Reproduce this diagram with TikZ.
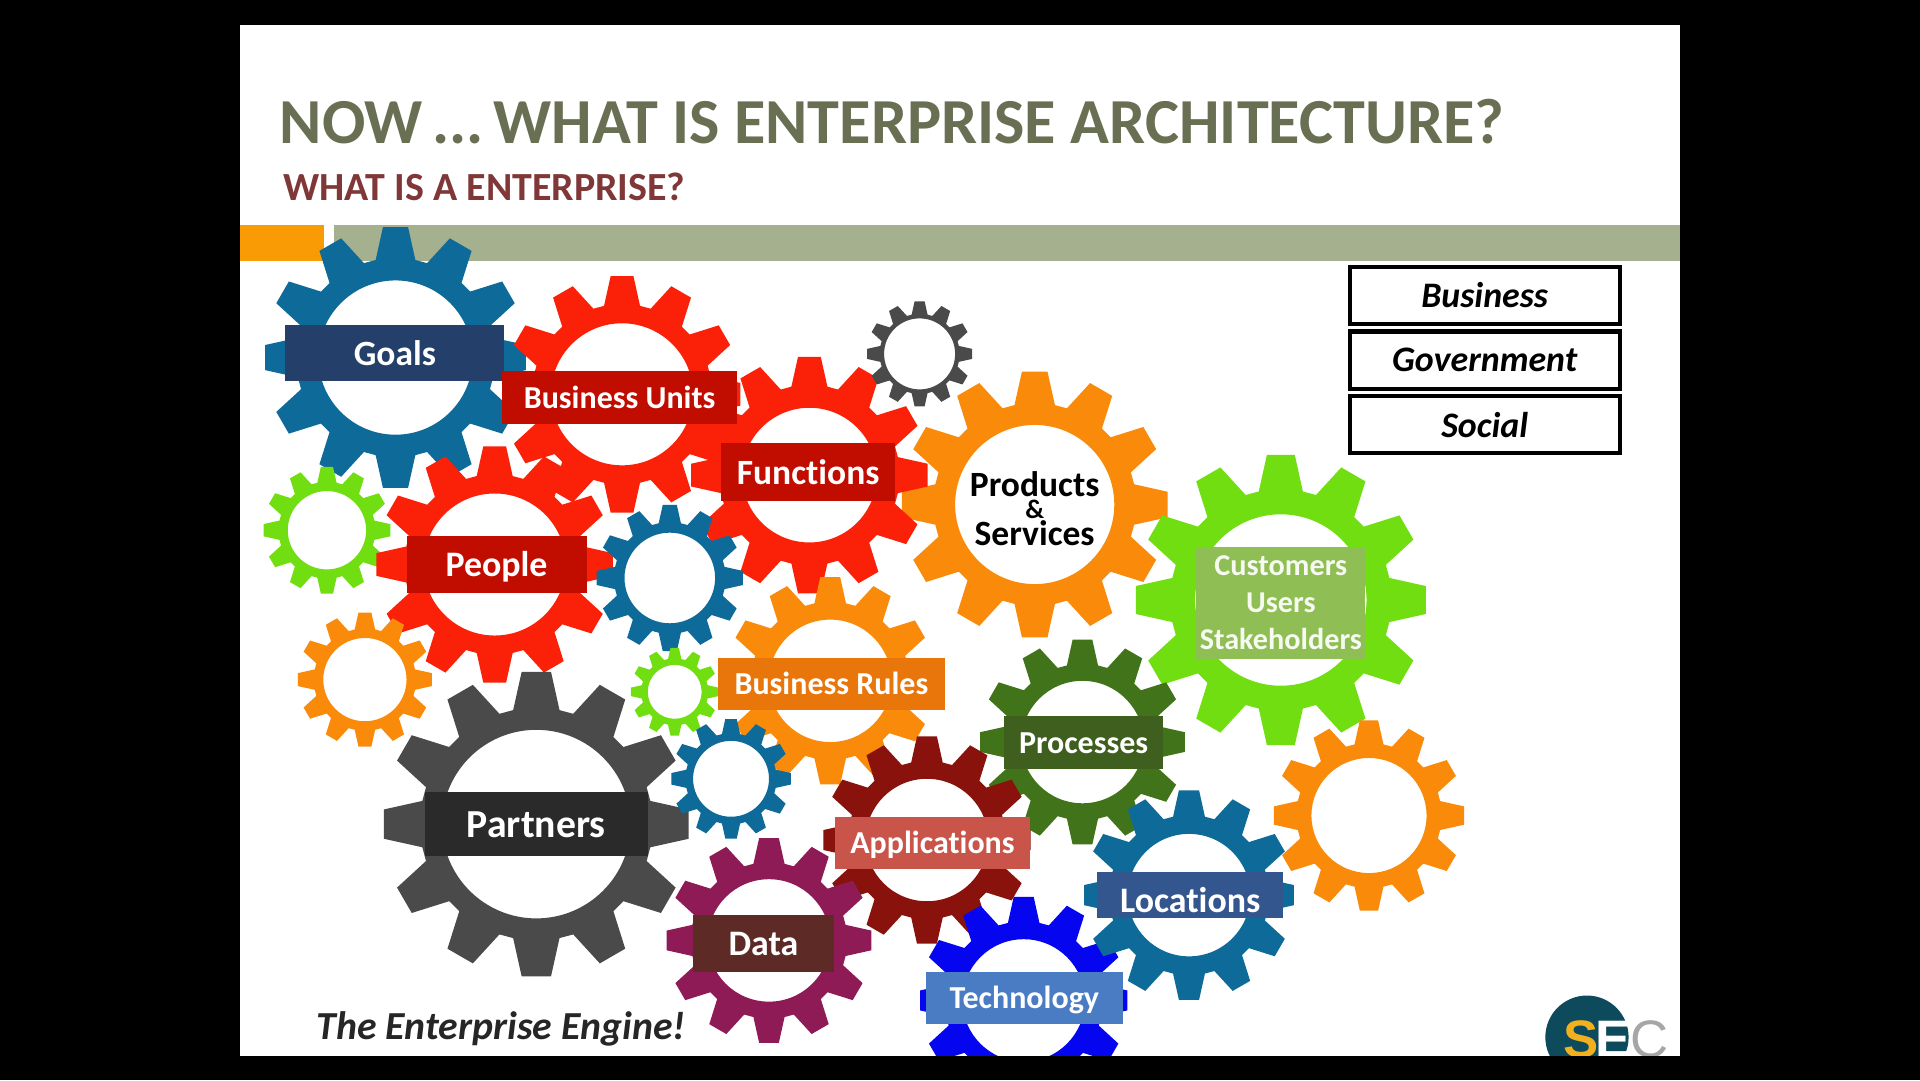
\documentclass[tikz,border=0pt]{standalone}
\usepackage{fontspec}
\setmainfont[Ligatures=CommonOff]{Carlito}
\newfontfamily\logofont{Liberation Sans}
\usetikzlibrary{positioning}
\definecolor{titleolive}{HTML}{696F52}
\definecolor{subred}{HTML}{7F3737}
\definecolor{barorange}{HTML}{F89B05}
\definecolor{barolive}{HTML}{A5B08F}
\definecolor{gearblue}{HTML}{0E6A98}
\definecolor{gearred}{HTML}{FB2108}
\definecolor{geargray}{HTML}{4A4A4A}
\definecolor{gearorange}{HTML}{F98A0A}
\definecolor{geargreen}{HTML}{70DE10}
\definecolor{gearmoss}{HTML}{41741A}
\definecolor{gearwine}{HTML}{8A120C}
\definecolor{gearplum}{HTML}{8F1B56}
\definecolor{gearcobalt}{HTML}{0505F0}
\definecolor{logoteal}{HTML}{0D4A5C}
\definecolor{logogold}{HTML}{F2B01E}
\definecolor{tagnavy}{HTML}{243F69}
\definecolor{tagred}{HTML}{C00D00}
\definecolor{tagorange}{HTML}{E8760A}
\definecolor{tagmoss}{HTML}{3F5F1F}
\definecolor{tagblack}{HTML}{2A2A2A}
\definecolor{tagsalmon}{HTML}{C9544A}
\definecolor{tagindigo}{HTML}{34568F}
\definecolor{tagbrown}{HTML}{5D2A25}
\definecolor{tagsky}{HTML}{4A7CC4}
\definecolor{tagleaf}{HTML}{8FBE55}

\begin{document}
\begin{tikzpicture}[x=0.0122449cm,y=-0.0122449cm]
\tikzset{
	banner node/.style={rectangle,inner sep=0,text=white,align=center},
	choice node/.style={rectangle,draw=black,line width=0.4mm,fill=white,minimum width=2.7cm,minimum height=0.57cm,inner sep=0,font=\bfseries\itshape\fontsize{10.2}{12}\selectfont}
}
\useasboundingbox (0,0) rectangle (1568,882);
\fill[black] (0,0) rectangle (1568,882);
\fill[white] (196,20) rectangle (1372,862);
\fill[barorange] (196,184) rectangle (265,213);
\fill[barolive] (273,184) rectangle (1372,213);

\node[anchor=base west,inner sep=0,text=titleolive,font=\bfseries\fontsize{18.25}{20}\selectfont] (title) at (228,117.5) {NOW\hspace{0.15em}...\hspace{0.15em}WHAT IS ENTERPRISE ARCHITECTURE?};
\node[anchor=base west,inner sep=0,text=subred,font=\bfseries\fontsize{11.35}{13}\selectfont] (subtitle) at (231,164) {WHAT IS A ENTERPRISE?};

% gears: x/y/outer/hole/colour
\begin{scope}
\clip (196,20) rectangle (1372,862);
\foreach \cx/\cy/\ro/\ri/\col in {
	323/292/107/63/gearblue,
	508/322/97/58/gearred,
	845/412/109/65/gearorange,
	661/388/97/55/gearred,
	751/289/43/29/geargray,
	1046/490/119/70/geargreen,
	267/433/52/32/geargreen,
	404/461/97/58/gearred,
	547/472/60/37/gearblue,
	298/555/55/34/gearorange,
	678/556/85/50/gearorange,
	551/565/36/22/geargreen,
	438/673/125/77/geargray,
	597/636/49/31/gearblue,
	884/606/84/50/gearmoss,
	1118/666/78/47/gearorange,
	757/686/85/50/gearwine,
	836/817/85/50/gearcobalt,
	971/731/86/50/gearblue,
	628/768/84/50/gearplum}
{
	\pgfmathsetmacro{\rb}{\ro*0.76}
	\begin{scope}[shift={(\cx,\cy)}]
	\fill[\col,even odd rule] (-11.5:\rb)
		\foreach \a in {0,30,...,330} {
			-- (\a-11.5:\rb) -- (\a-5.5:\ro) -- (\a+5.5:\ro) -- (\a+11.5:\rb)
		} -- cycle (0,0) circle (\ri);
	\end{scope}
}
\end{scope}

% tags: name/x/y/width/height/colour/size/text height/text
\foreach \nm/\tx/\ty/\tw/\th/\col/\sz/\tb/\txt in {
	goals/322.5/288/179/46/tagnavy/10.1/7.1/Goals,
	units/506/324.5/192/43/tagred/9.1/6.5/Business Units,
	functions/660/385.5/142/47/tagred/10.1/6.8/Functions,
	people/405.5/461/147/46/tagred/10.2/7.1/People,
	rules/679/558.5/186/43/tagorange/9.1/6.3/Business Rules,
	processes/885/606.5/130/43/tagmoss/9.1/6.0/Processes,
	partners/438/673/182/52/tagblack/11.3/7.5/Partners,
	applications/761.5/688.5/159/43/tagsalmon/9.1/5.8/Applications,
	locations/972/731/152/38/tagindigo/10.2/9.8/Locations,
	data/623.5/770.5/115/47/tagbrown/10.2/7.0/Data,
	technology/836.5/815/161/43/tagsky/9.1/6.2/Technology}
{
	\node[banner node,fill=\col,minimum width=\tw*0.0122449cm,minimum height=\th*0.0122449cm,text height=\tb pt,text depth=0pt,font=\bfseries\fontsize{\sz}{12}\selectfont] (\nm) at (\tx,\ty) {\txt};
}
\node[banner node,fill=tagleaf,minimum width=1.69cm,minimum height=1.114cm,text=white!92!tagleaf,font=\bfseries\fontsize{8.6}{10.5}\selectfont] (customers) at (1046,492.5) {Customers\\Users\\Stakeholders};
\node[align=center,inner sep=0,font=\bfseries\fontsize{10.1}{6.8}\selectfont] (products) at (845,415) {Products\\[-0.5pt]{\fontsize{7.6}{6.8}\selectfont\&}\\[-0.5pt]Services};

\node[choice node] (business) at (1212.5,241) {Business};
\node[choice node] (government) at (1212.5,294) {Government};
\node[choice node] (social) at (1212.5,347) {Social};

\node[anchor=base west,inner sep=0,text=black!85,font=\bfseries\itshape\fontsize{11.3}{13}\selectfont] (engine) at (258,848.5) {The Enterprise Engine!};

% logo
\begin{scope}
\clip (196,20) rectangle (1372,862);
\fill[logoteal] (1296,847) circle (34);
\node[anchor=base west,inner sep=0,text=logogold,font=\logofont\bfseries\fontsize{15}{15}\selectfont] (logoS) at (1276,864) {S};
\node[anchor=base west,inner sep=0,text=white,font=\logofont\bfseries\fontsize{15}{15}\selectfont] (logoE) at (1302,864) {E};
\node[anchor=base west,inner sep=0,text=black!35,font=\logofont\fontsize{15}{15}\selectfont] (logoC) at (1331,864) {C};
\end{scope}
\end{tikzpicture}
\end{document}
